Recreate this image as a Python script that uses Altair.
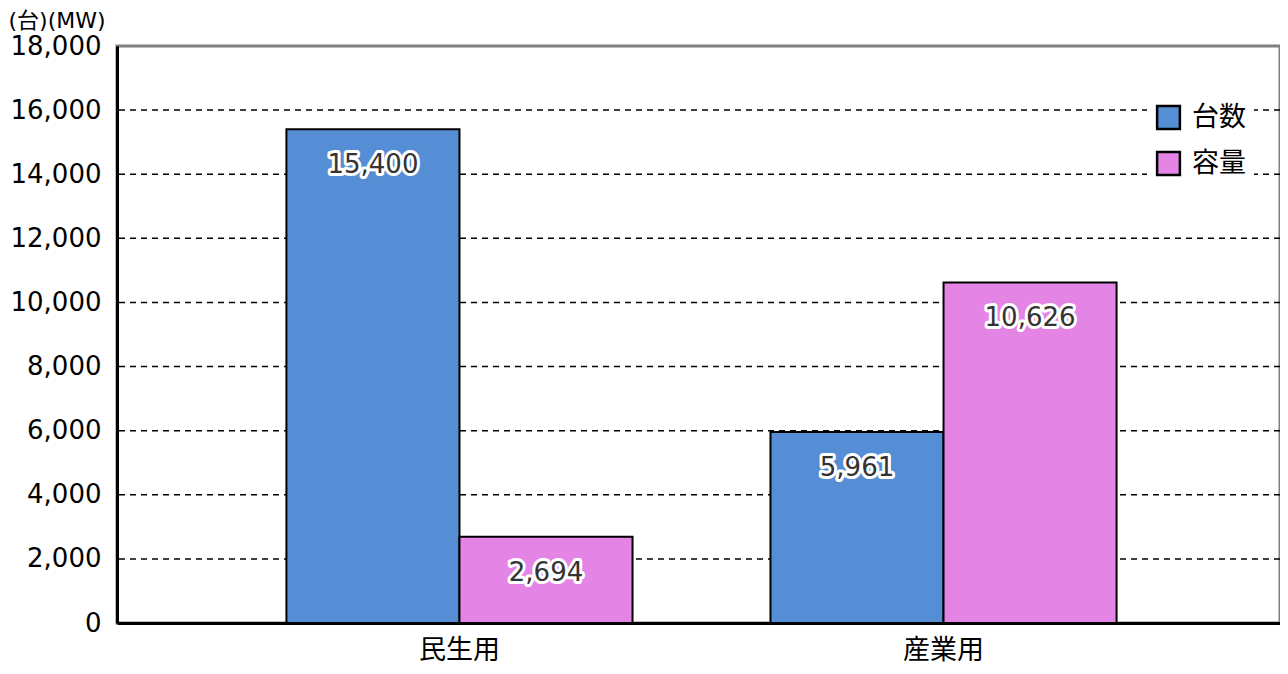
import altair as alt
import pandas as pd

categories = ["民生用", "産業用"]
series = ["台数", "容量"]
values_daisu = [15400, 5961]
values_yoryo = [2694, 10626]
grid_values = [2000, 4000, 6000, 8000, 10000, 12000, 14000, 16000]
colors = ["#558ED5", "#E484E4"]

rows = []
for i, c in enumerate(categories):
    rows.append({"cat": c, "series": series[0], "value": values_daisu[i]})
    rows.append({"cat": c, "series": series[1], "value": values_yoryo[i]})
df = pd.DataFrame(rows)
df["label"] = df["value"].map(lambda v: f"{v:,}")
grid_df = pd.DataFrame({"g": grid_values})

FONT = "DejaVu Sans, Noto Sans CJK JP"
W, H = 1163, 577
x_scale = alt.Scale(range=[0, 1169], paddingInner=0.285, paddingOuter=0.35)

x_enc = alt.X("cat:N", sort=categories, scale=x_scale,
              axis=alt.Axis(title=None, labelAngle=0, labelFontSize=27, labelFont=FONT,
                            labelColor="#000", ticks=False, labelPadding=14,
                            domainColor="#000", domainWidth=3))
y_scale = alt.Scale(domain=[0, 18000], nice=False)
xoff = alt.XOffset("series:N", sort=series, scale=alt.Scale(paddingInner=0, paddingOuter=0))

grid = alt.Chart(grid_df).mark_rule(color="#000", strokeWidth=1.5, strokeDash=[6, 5]).encode(
    y=alt.Y("g:Q", scale=y_scale)
)

bars = alt.Chart(df).mark_bar(stroke="#000", strokeWidth=2).encode(
    x=x_enc,
    xOffset=xoff,
    y=alt.Y("value:Q", scale=y_scale,
            axis=alt.Axis(title="(台)(MW)", titleAngle=0, titleAlign="left",
                          titleBaseline="middle", titleX=-109, titleY=-26,
                          titleFontSize=22, titleFont=FONT, titleFontWeight="normal",
                          titleColor="#000",
                          values=[0, 2000, 4000, 6000, 8000, 10000, 12000, 14000, 16000, 18000],
                          format=",d", labelFontSize=26, labelFont=FONT, labelColor="#000",
                          ticks=False, labelPadding=16, grid=False,
                          domainColor="#000", domainWidth=3)),
    color=alt.Color("series:N", sort=series,
                    scale=alt.Scale(domain=series, range=colors),
                    legend=alt.Legend(title=None, orient="none", legendX=1030, legendY=50,
                                      symbolType="square", symbolSize=520,
                                      symbolStrokeColor="#000", symbolStrokeWidth=2.5,
                                      symbolOpacity=1,
                                      labelFontSize=27, labelFont=FONT, labelColor="#000",
                                      rowPadding=13, labelOffset=10,
                                      fillColor="white", padding=8)),
)

halo = alt.Chart(df).mark_text(fontSize=26, font=FONT, dy=36, stroke="white",
                               strokeWidth=6, strokeJoin="round", fill="white").encode(
    x=alt.X("cat:N", sort=categories, scale=x_scale),
    xOffset=xoff,
    y=alt.Y("value:Q", scale=y_scale),
    text="label:N",
)
txt = alt.Chart(df).mark_text(fontSize=26, font=FONT, dy=36, fill="#333333").encode(
    x=alt.X("cat:N", sort=categories, scale=x_scale),
    xOffset=xoff,
    y=alt.Y("value:Q", scale=y_scale),
    text="label:N",
)

chart = alt.layer(grid, bars, halo, txt).properties(
    width=W, height=H,
    background="white",
    autosize=alt.AutoSizeParams(type="none"),
    padding={"left": 109, "top": 38, "right": 0, "bottom": 43},
).configure_view(stroke="#808080", strokeWidth=3)

chart.save("out.html", embed_options={"renderer": "svg", "actions": False})
